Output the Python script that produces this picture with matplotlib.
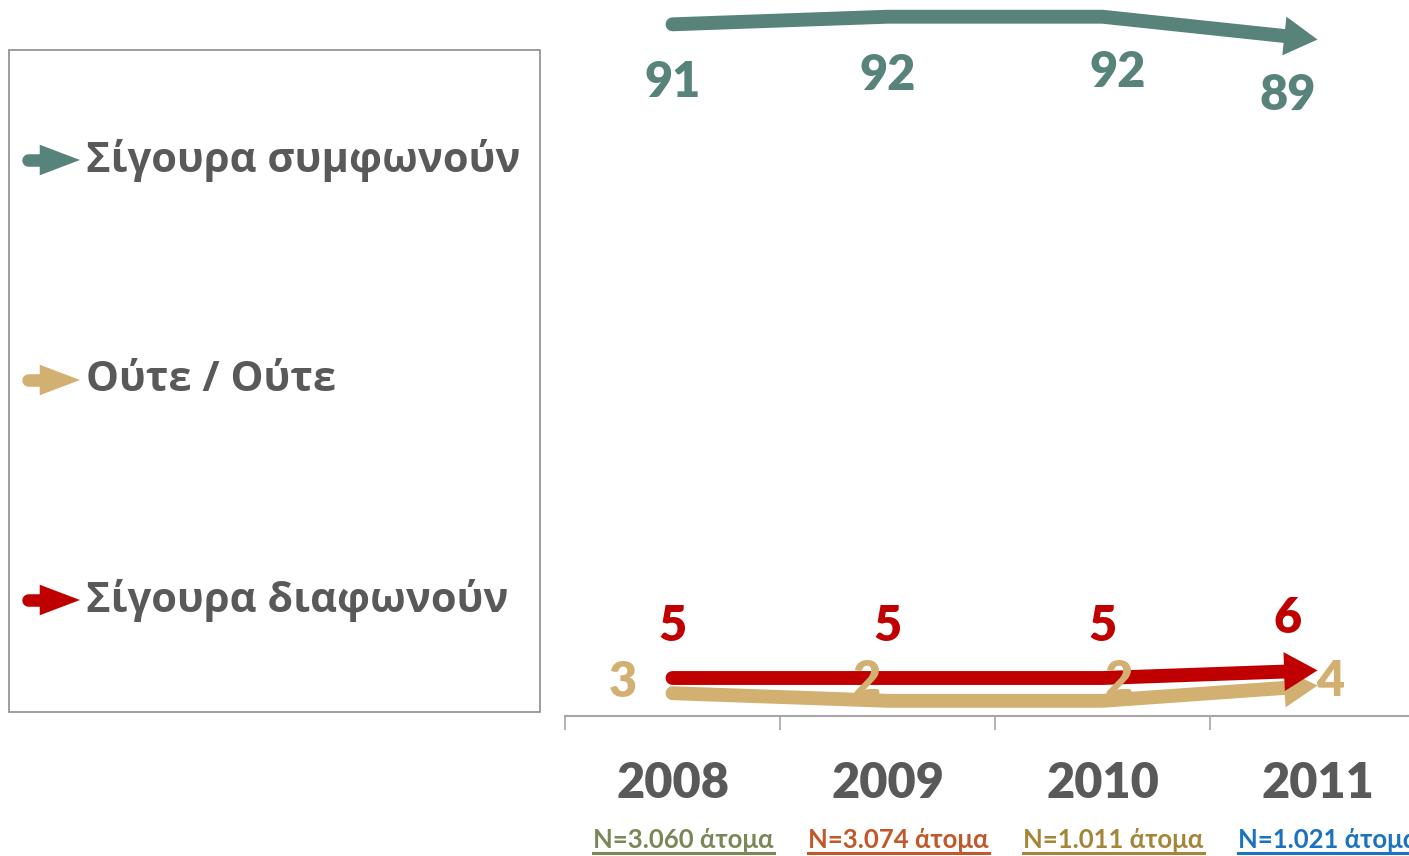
import matplotlib.pyplot as plt
from matplotlib.lines import Line2D
from matplotlib.patches import Rectangle
from matplotlib.transforms import IdentityTransform, blended_transform_factory

years = ["2008", "2009", "2010", "2011"]
sample_sizes = ["N=3.060 άτομα", "N=3.074 άτομα", "N=1.011 άτομα", "N=1.021 άτομα"]
sample_colors = ["#7c8758", "#c0582a", "#a4853a", "#1b72c0"]

series_names = ["Σίγουρα συμφωνούν", "Ούτε / Ούτε", "Σίγουρα διαφωνούν"]
agree = [91, 92, 92, 89]
neither = [3, 2, 2, 4]
disagree = [5, 5, 5, 6]

GREEN = "#58837a"
TAN = "#d1b072"
RED = "#c00000"
GREY = "#595959"

NUM_FONT = ["Lato", "Open Sans"]
TXT_FONT = ["Open Sans", "DejaVu Sans"]

fig = plt.figure(figsize=(14.09, 8.56), dpi=100)
ax = fig.add_axes([565 / 1409, 140 / 856, 860 / 1409, 716 / 856])
ax.set_xlim(-0.5, 3.5)
ax.set_ylim(0, 94.2)
for s in ["top", "left", "right"]:
    ax.spines[s].set_visible(False)
ax.spines["bottom"].set_color("#a6a6a6")
ax.spines["bottom"].set_linewidth(1.5)
ax.set_yticks([])
ax.set_xticks([])
ax.set_xticks([-0.5, 0.5, 1.5, 2.5, 3.5], minor=True)
ax.tick_params(axis="x", which="minor", length=10, width=1.2, color="#a6a6a6",
               labelbottom=False)
ax.patch.set_alpha(0)


def arrow_line(vals, color, lw=10, z=2):
    x = list(range(len(vals)))
    # shaft stops under the head
    frac = 0.86
    xb = x[-2] + (x[-1] - x[-2]) * frac
    yb = vals[-2] + (vals[-1] - vals[-2]) * frac
    ax.plot(x[:-1] + [xb], vals[:-1] + [yb], color=color, lw=lw,
            solid_capstyle="round", solid_joinstyle="miter", zorder=z)
    ax.annotate("", xy=(x[-1], vals[-1]), xytext=(x[-2], vals[-2]),
                arrowprops=dict(arrowstyle="-|>,head_length=24,head_width=14",
                                mutation_scale=1, lw=0, color=color,
                                shrinkA=0, shrinkB=0), zorder=z)


arrow_line(agree, GREEN)
arrow_line(neither, TAN, z=2)
arrow_line(disagree, RED, z=3)


def labels(vals, offsets, color):
    for i, (v, off) in enumerate(zip(vals, offsets)):
        ax.annotate(str(v), xy=(i, v), xytext=off, textcoords="offset pixels",
                    ha="center", va="center", fontsize=35, fontweight="heavy",
                    color=color, family=NUM_FONT, zorder=5)


labels(agree, [(0, -58), (0, -59), (15, -56), (-30, -56)], GREEN)
labels(disagree, [(0, 51), (0, 51), (0, 51), (-30, 52)], RED)
labels(neither, [(-50, 11), (-21, 19), (16, 19), (13, 4)], TAN)

trans = blended_transform_factory(ax.transData, ax.transAxes)
n_texts = []
for i, (yr, n, c) in enumerate(zip(years, sample_sizes, sample_colors)):
    ax.annotate(yr, xy=(i, 0), xycoords=trans, xytext=(0, -67),
                textcoords="offset pixels", ha="center", va="center",
                fontsize=35, fontweight="heavy", color=GREY, family=NUM_FONT,
                annotation_clip=False)
    t = ax.annotate(n, xy=(i, 0), xycoords=trans, xytext=(11, -124),
                    textcoords="offset pixels", ha="center", va="center",
                    fontsize=18.5, fontweight="bold", color=c, family=NUM_FONT,
                    annotation_clip=False)
    n_texts.append((t, c))

# legend panel, laid out in pixel units
lg = fig.add_axes([0, 0, 1, 1])
lg.set_xlim(0, 1409)
lg.set_ylim(856, 0)
lg.axis("off")
lg.patch.set_alpha(0)
lg.add_patch(Rectangle((9, 50), 531, 662, fill=False, edgecolor="#8c8c8c", lw=1.2))
legend_y = [160, 380, 600]
for name, c, y in zip(series_names, [GREEN, TAN, RED], legend_y):
    lg.plot([28, 50], [y, y], color=c, lw=9, solid_capstyle="round")
    lg.annotate("", xy=(80, y), xytext=(40, y),
                arrowprops=dict(arrowstyle="-|>,head_length=29,head_width=11",
                                mutation_scale=1, lw=0, color=c,
                                shrinkA=0, shrinkB=0))
    lg.text(86, y, name, ha="left", va="center", fontsize=30,
            fontweight="bold", color=GREY, family=TXT_FONT)

# underline the sample size labels
fig.canvas.draw()
for t, c in n_texts:
    bb = t.get_window_extent()
    fig.add_artist(Line2D([bb.x0, bb.x1], [bb.y0 - 1, bb.y0 - 1], color=c,
                          lw=2.2, transform=IdentityTransform()))

fig.savefig("out.png", dpi=100)
